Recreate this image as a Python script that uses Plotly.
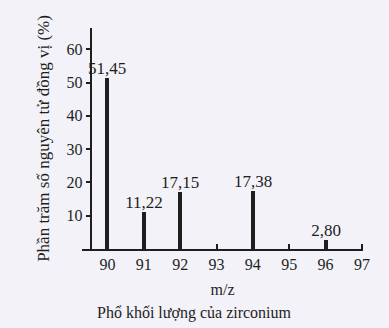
import plotly.graph_objects as go

mz = [90, 91, 92, 94, 96]
percent = [51.45, 11.22, 17.15, 17.38, 2.80]
labels = ["51,45", "11,22", "17,15", "17,38", "2,80"]
tick_vals_x = [90, 91, 92, 93, 94, 95, 96, 97]
tick_vals_y = [10, 20, 30, 40, 50, 60]

font_family = "Liberation Serif, Times New Roman, serif"
ink = "#1e1e1e"

x_range = [89.3, 97.03]
y_axis_at = 89.56

fig = go.Figure()
fig.add_trace(go.Bar(
    x=mz, y=percent, width=0.11, marker=dict(color=ink, line=dict(width=0)),
    text=labels, textposition="outside", cliponaxis=False,
    textfont=dict(family=font_family, size=17, color=ink),
    showlegend=False, hoverinfo="skip",
))

fig.update_layout(
    width=389, height=328,
    margin=dict(l=82, r=26, t=28, b=79),
    paper_bgcolor="#f2f2f8", plot_bgcolor="rgba(0,0,0,0)",
    font=dict(family=font_family, size=16, color=ink),
    uniformtext=dict(minsize=17, mode="show"),
    xaxis=dict(
        range=x_range, tickvals=tick_vals_x, ticks="inside", ticklen=5,
        tickwidth=1.5, tickcolor=ink, showline=True, linecolor=ink, linewidth=1.5,
        showgrid=False, zeroline=False, tickfont=dict(size=16, color=ink),
        automargin=False,
        title=dict(text="m/z", font=dict(size=16, color=ink), standoff=12),
    ),
    yaxis=dict(
        range=[0, 66.4], tickvals=tick_vals_y, ticks="outside", ticklen=5,
        tickwidth=1.5, tickcolor=ink, showline=True, linecolor=ink, linewidth=1.5,
        showgrid=False, zeroline=False, tickfont=dict(size=16, color=ink),
        automargin=False,
        anchor="free", position=(y_axis_at - x_range[0]) / (x_range[1] - x_range[0]),
        title=dict(text="Phần trăm số nguyên tử đồng vị (%)", font=dict(size=17, color=ink), standoff=12),
    ),
    bargap=0,
)

fig.add_annotation(
    text="Phổ khối lượng của zirconium", xref="paper", yref="paper",
    x=0.402, y=-0.29, xanchor="center", yanchor="middle", showarrow=False,
    font=dict(family=font_family, size=16, color=ink),
)

fig.write_html(
    "out.html",
    config={"displayModeBar": False},
    post_script="document.body.style.margin='0';document.body.style.background='#f2f2f8';",
)
